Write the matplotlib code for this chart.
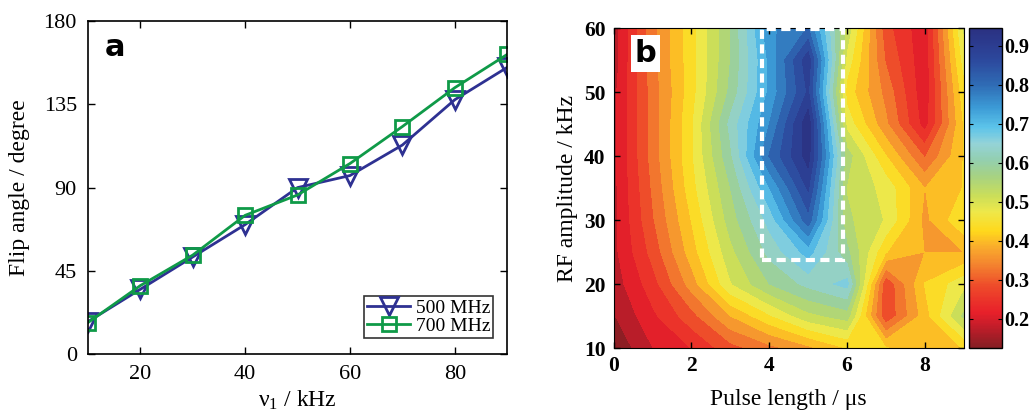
import numpy as np
import matplotlib
matplotlib.use('Agg')
import matplotlib.pyplot as plt
from matplotlib.colors import LinearSegmentedColormap, Normalize
from matplotlib.cm import ScalarMappable
from matplotlib.patches import Rectangle

# --- Panel a: flip angle vs RF field ---
nu1_khz = [10, 20, 30, 40, 50, 60, 70, 80, 90]
flip_500 = [17.5, 35, 52.5, 70, 90, 96.5, 113, 137.5, 155]
flip_700 = [17, 37, 53.5, 75, 86, 103, 123, 144, 162]

# --- Panel b: fidelity map (pulse length x RF amplitude) ---
pulse_us = [0, 1, 2, 3, 4, 5, 6, 7, 8, 9]
rf_khz = [10, 15, 20, 25, 30, 35, 40, 45, 50, 55, 60]
# rows = rf_khz, columns = pulse_us
fidelity = [
    [0.12, 0.19, 0.23, 0.29, 0.33, 0.37, 0.42, 0.42, 0.40, 0.42],
    [0.15, 0.22, 0.29, 0.38, 0.45, 0.52, 0.55, 0.27, 0.40, 0.54],
    [0.17, 0.25, 0.36, 0.49, 0.57, 0.62, 0.66, 0.27, 0.42, 0.48],
    [0.18, 0.28, 0.40, 0.52, 0.62, 0.70, 0.58, 0.42, 0.38, 0.38],
    [0.18, 0.30, 0.42, 0.55, 0.66, 0.82, 0.54, 0.49, 0.37, 0.45],
    [0.18, 0.31, 0.44, 0.57, 0.72, 0.88, 0.53, 0.48, 0.38, 0.42],
    [0.18, 0.32, 0.45, 0.60, 0.80, 0.93, 0.55, 0.42, 0.30, 0.42],
    [0.18, 0.32, 0.45, 0.62, 0.76, 0.94, 0.48, 0.35, 0.21, 0.42],
    [0.18, 0.32, 0.44, 0.58, 0.73, 0.88, 0.44, 0.33, 0.20, 0.44],
    [0.17, 0.33, 0.44, 0.57, 0.73, 0.90, 0.48, 0.30, 0.20, 0.47],
    [0.17, 0.33, 0.44, 0.57, 0.75, 0.80, 0.52, 0.28, 0.20, 0.50],
]
cbar_ticks = [0.2, 0.3, 0.4, 0.5, 0.6, 0.7, 0.8, 0.9]

plt.rcParams['font.family'] = ['Liberation Serif', 'DejaVu Serif']
plt.rcParams['mathtext.fontset'] = 'custom'
plt.rcParams['mathtext.rm'] = 'Liberation Serif'
plt.rcParams['mathtext.it'] = 'Liberation Serif:italic'

fig = plt.figure(figsize=(10.35, 4.15), dpi=100)

# ---------- panel a ----------
ax_a = fig.add_axes([0.085, 0.147, 0.405, 0.802])
ax_a.plot(nu1_khz, flip_500, color='#2e3192', lw=2, marker='v', ms=13,
          mfc='none', mew=2, label='500 MHz')
ax_a.plot(nu1_khz, flip_700, color='#0f9a48', lw=2, marker='s', ms=10,
          mfc='none', mew=2, label='700 MHz')
ax_a.set_xlim(10, 90)
ax_a.set_ylim(0, 180)
ax_a.set_xticks([20, 40, 60, 80])
ax_a.set_yticks([0, 45, 90, 135, 180])
ax_a.tick_params(direction='in', top=True, right=True, labelsize=16, length=5, width=1, pad=8)
for s in ax_a.spines.values():
    s.set_linewidth(1.2)
ax_a.set_ylabel('Flip angle / degree', fontsize=17, labelpad=10)
ax_a.set_xlabel(r'ν$_1$ / kHz', fontsize=17, labelpad=3)
leg = ax_a.legend(loc='lower right', bbox_to_anchor=(0.967, 0.048), fontsize=14,
                  frameon=True, fancybox=False, edgecolor='black',
                  handlelength=2.2, handletextpad=0.3, borderpad=0.15,
                  labelspacing=0.05, borderaxespad=0)
leg.get_frame().set_linewidth(1.2)
ax_a.text(0.04, 0.92, 'a', transform=ax_a.transAxes, fontsize=22,
          fontweight='bold', family='DejaVu Sans', va='center', ha='left')

# ---------- panel b ----------
cmap = LinearSegmentedColormap.from_list('fid', [
    (0.000, '#7a1e22'),
    (0.080, '#c61d2a'),
    (0.120, '#e8202a'),
    (0.200, '#ee4a2a'),
    (0.270, '#f4862f'),
    (0.320, '#f9ab2c'),
    (0.370, '#ffd81c'),
    (0.430, '#eee84a'),
    (0.480, '#cade5a'),
    (0.540, '#a6d283'),
    (0.590, '#93cfb0'),
    (0.640, '#94d3d8'),
    (0.690, '#5cc4ea'),
    (0.750, '#3c9bd6'),
    (0.820, '#2f6cb5'),
    (0.900, '#2c479c'),
    (1.000, '#2b2f80'),
])
vmin, vmax = 0.115, 0.95
levels = np.linspace(vmin, vmax, 23)
norm = Normalize(vmin=vmin, vmax=vmax)

ax_b = fig.add_axes([0.593, 0.1614, 0.338, 0.771])
cs = ax_b.contourf(pulse_us, rf_khz, np.array(fidelity), levels=levels,
                   cmap=cmap, norm=norm)
ax_b.set_xlim(0, 9)
ax_b.set_ylim(10, 60)
ax_b.set_xticks([0, 2, 4, 6, 8])
ax_b.set_yticks([10, 20, 30, 40, 50, 60])
ax_b.tick_params(direction='in', top=True, right=True, labelsize=15.5, length=4, width=1, pad=6)
for lab in ax_b.get_xticklabels() + ax_b.get_yticklabels():
    lab.set_fontweight('bold')
ax_b.set_xlabel('Pulse length / μs', fontsize=17, labelpad=9)
ax_b.set_ylabel('RF amplitude / kHz', fontsize=17, labelpad=4)

ax_b.add_patch(Rectangle((3.82, 23.8), 2.09, 36.0, fill=False, edgecolor='white',
                         lw=3, linestyle=(0, (2.2, 1.3)), zorder=5, clip_on=False))
ax_b.text(0.06, 0.92, 'b', transform=ax_b.transAxes, fontsize=22,
          fontweight='bold', family='DejaVu Sans', va='center', ha='left',
          bbox=dict(boxstyle='square,pad=0.12', fc='white', ec='none'))

cax = fig.add_axes([0.936, 0.1614, 0.032, 0.771])
cb = fig.colorbar(ScalarMappable(norm=norm, cmap=cmap), cax=cax, ticks=cbar_ticks)
cb.ax.set_ylim(0.125, 0.945)
cb.ax.tick_params(direction='in', left=True, right=True, labelsize=14.5, length=3, pad=2)
for lab in cb.ax.get_yticklabels():
    lab.set_fontweight('bold')
cb.outline.set_linewidth(1)

fig.savefig('out.png', dpi=100)
